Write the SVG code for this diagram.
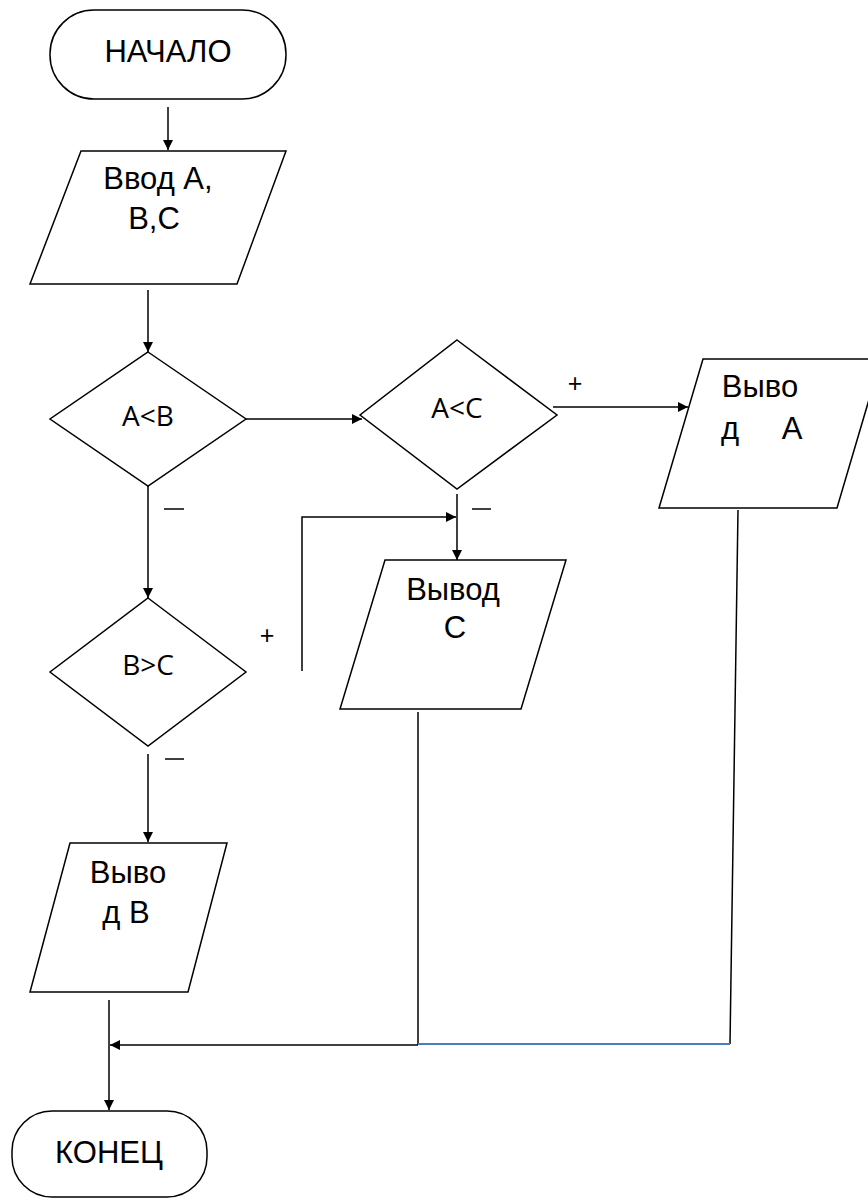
<svg xmlns="http://www.w3.org/2000/svg" width="868" height="1200" viewBox="0 0 868 1200">
  <style>
    .shape { fill: #ffffff; stroke: #000000; stroke-width: 1.5; }
    .line { fill: none; stroke: #000000; stroke-width: 1.5; }
    .blue { fill: none; stroke: #4a7ebb; stroke-width: 2; }
    .t { font-family: "Liberation Sans", Arial, sans-serif; font-size: 31px; fill: #000; text-anchor: middle; }
    .c { font-family: "Open Sans", "DejaVu Sans", sans-serif; font-size: 28px; fill: #000; text-anchor: middle; }
    .s { font-family: "Liberation Sans", Arial, sans-serif; font-size: 25px; fill: #000; text-anchor: middle; }
  </style>
  <defs>
    <marker id="arrow" viewBox="0 0 10 10" refX="10" refY="5" markerWidth="10" markerHeight="10" markerUnits="userSpaceOnUse" orient="auto">
      <path d="M0,0 L10,5 L0,10 z" fill="#000"/>
    </marker>
  </defs>
  <rect width="868" height="1200" fill="#ffffff"/>

  <!-- connectors -->
  <g id="connectors">
    <line class="line" x1="168" y1="107" x2="168" y2="150" marker-end="url(#arrow)"/>
    <line class="line" x1="148" y1="290" x2="148" y2="352" marker-end="url(#arrow)"/>
    <line class="line" x1="246" y1="419" x2="362" y2="419" marker-end="url(#arrow)"/>
    <line class="line" x1="553" y1="407" x2="688" y2="407" marker-end="url(#arrow)"/>
    <line class="line" x1="148" y1="486" x2="148" y2="598" marker-end="url(#arrow)"/>
    <line class="line" x1="457" y1="494" x2="457" y2="560" marker-end="url(#arrow)"/>
    <polyline class="line" points="302,671 302,517 456,517" marker-end="url(#arrow)"/>
    <line class="line" x1="148" y1="754" x2="148" y2="842" marker-end="url(#arrow)"/>
    <line class="line" x1="109" y1="1000" x2="109" y2="1110" marker-end="url(#arrow)"/>
    <line class="line" x1="418" y1="712" x2="418" y2="1045"/>
    <line class="line" x1="418" y1="1045" x2="110" y2="1045" marker-end="url(#arrow)"/>
    <line class="line" x1="738" y1="510" x2="730" y2="1044"/>
    <line class="blue" x1="418" y1="1044" x2="730" y2="1044"/>
    <text class="s" x="575" y="392">+</text>
    <text class="s" x="267" y="644">+</text>
    <line class="line" x1="164" y1="509" x2="184" y2="509"/>
    <line class="line" x1="472" y1="509" x2="491" y2="509"/>
    <line class="line" x1="165" y1="759" x2="184" y2="759"/>
  </g>

  <g id="start">
    <rect class="shape" x="50" y="10" width="236" height="89" rx="44" ry="44"/>
    <text class="t" x="168" y="62">НАЧАЛО</text>
  </g>

  <g id="input">
    <polygon class="shape" points="81,151 286,151 237,284 30,284"/>
    <text class="t" x="158" y="189">Ввод А,</text>
    <text class="t" x="154" y="229">В,С</text>
  </g>

  <g id="cond-ab">
    <polygon class="shape" points="148,352 246,419 148,486 50,419"/>
    <text class="c" x="148" y="426">A&lt;B</text>
  </g>

  <g id="cond-ac">
    <polygon class="shape" points="457,340 557,415 457,489 360,415"/>
    <text class="c" x="457" y="418">A&lt;C</text>
  </g>

  <g id="cond-bc">
    <polygon class="shape" points="148,598 246,672 148,746 50,672"/>
    <text class="c" x="148" y="675">B&gt;C</text>
  </g>

  <g id="out-a">
    <polygon class="shape" points="703,359 881,359 837,508 659,508"/>
    <text class="t" x="760" y="397">Выво</text>
    <text class="t" x="730" y="439">д</text>
    <text class="t" x="792" y="439">А</text>
  </g>

  <g id="out-c">
    <polygon class="shape" points="385,560 566,560 521,709 340,709"/>
    <text class="t" x="453" y="600">Вывод</text>
    <text class="t" x="455" y="638">С</text>
  </g>

  <g id="out-b">
    <polygon class="shape" points="70,843 227,843 188,992 30,992"/>
    <text class="t" x="128" y="883">Выво</text>
    <text class="t" x="126" y="923">д В</text>
  </g>

  <g id="end">
    <rect class="shape" x="12" y="1111" width="195" height="86" rx="40" ry="40"/>
    <text class="t" x="109" y="1163">КОНЕЦ</text>
  </g>
</svg>
